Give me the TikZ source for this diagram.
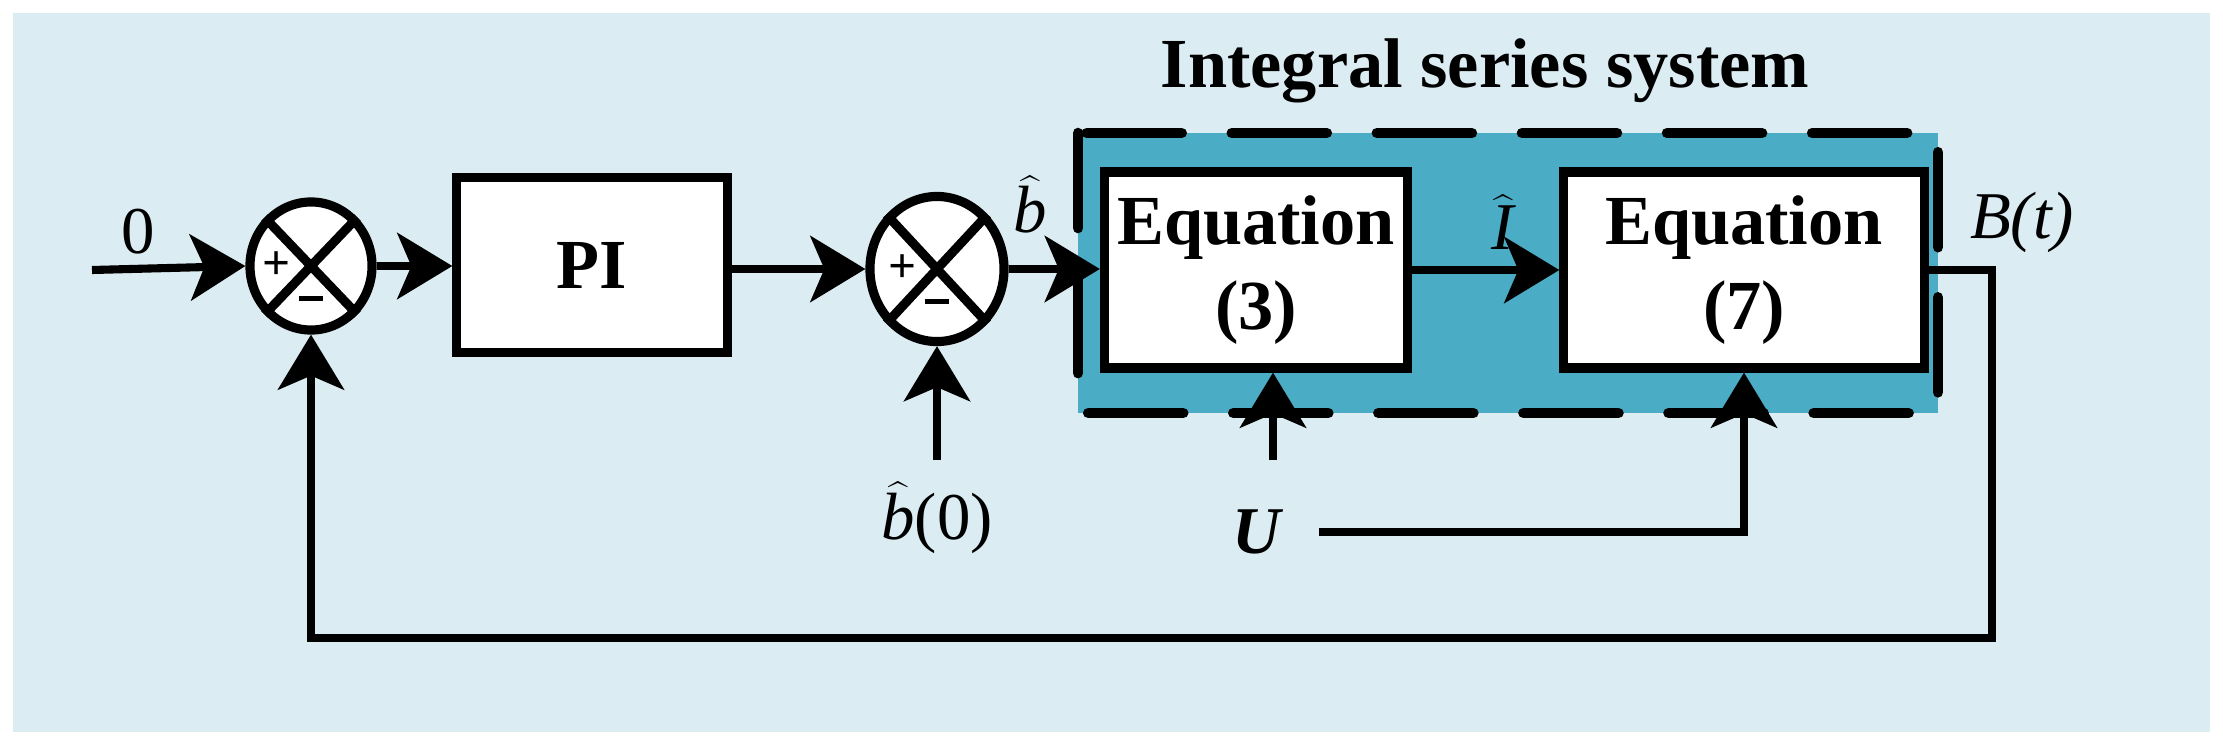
\documentclass[tikz,border=0pt]{standalone}
\usepackage{fontspec}
\setmainfont{Liberation Serif}
\usetikzlibrary{arrows.meta,shapes.geometric}
\definecolor{bgblue}{RGB}{219,237,243}
\definecolor{sysblue}{RGB}{75,172,198}
\begin{document}
\begin{tikzpicture}[x=0.01cm,y=-0.01cm,
  line width=2.3pt,
  arr/.style={-{Stealth[length=0.55cm,width=0.66cm,inset=0.14cm]}},
  blk/.style={draw,fill=white,line width=2.6pt,inner sep=0pt,font=\fontsize{20}{24}\selectfont\bfseries,align=center},
  sum/.style={draw,fill=white,ellipse,line width=2.6pt,inner sep=0pt},
  lbl/.style={font=\fontsize{19}{23}\selectfont}]
\useasboundingbox (0,0) rectangle (2223,745);
\fill[white] (0,0) rectangle (2223,745);
\fill[bgblue] (13,13) rectangle (2210,732);
% system box
\fill[sysblue] (1078,133) rectangle (1938,413);
\draw[line width=3pt,dash pattern=on 0.95cm off 0.5cm,line cap=round] (1078,133) rectangle (1938,413);
\node[font=\fontsize{20}{24}\selectfont\bfseries] (title) at (1485,71) {Integral series system};
% blocks
\node[blk,minimum width=2.7cm,minimum height=1.75cm] (pi) at (592,265) {PI};
\node[blk,minimum width=3.03cm,minimum height=1.96cm] (eq3) at (1256,270) {Equation\\(3)};
\node[blk,minimum width=3.6cm,minimum height=1.96cm] (eq7) at (1744,270) {Equation\\(7)};
% sums
\node[sum,minimum width=1.22cm,minimum height=1.28cm] (s1) at (311,266) {};
\node[sum,minimum width=1.34cm,minimum height=1.45cm] (s2) at (937,269) {};
\foreach \s in {s1,s2}{
  \draw[line width=2.6pt] (\s.north west) -- (\s.south east) (\s.north east) -- (\s.south west);
  \node[font=\fontsize{14}{14}\selectfont\bfseries] at ([xshift=-0.34cm]\s.center) {+};
  \node[font=\fontsize{14}{14}\selectfont\bfseries] at ([yshift=-0.38cm]\s.center) {\rule[0.5ex]{0.5em}{1.4pt}};
}
% coordinates
\coordinate (in0) at (92,270);
\coordinate (b0) at (937,460);
\coordinate (u3) at (1273,460);
\coordinate (uE) at (1319,532);
\coordinate (c1) at (1992,270);
\coordinate (c2) at (1992,638);
\coordinate (c3) at (311,638);
% labels
\node[lbl] (zero) at (138,232) {0};
\node[lbl] (bh) at (1030,205) {$\widehat{\textit{b}}$};
\node[lbl] (bh0) at (937,518) {$\widehat{\textit{b}}$(0)};
\node[lbl] (ih) at (1503,222) {$\widehat{\textit{I}}$};
\node[lbl] (bt) at (2022,222) {\textit{B(t)}};
\node[lbl] (U) at (1258,532) {\textit{\textbf{U}}};
% connectors
\draw[arr] (in0) -- (s1.west);
\draw[arr] (s1.east) -- (s1.east -| pi.west);
\draw[arr] (pi.east |- s2.west) -- (s2.west);
\draw[arr] (s2.east) -- (s2.east -| eq3.west);
\draw[arr] (eq3.east) -- (eq7.west);
\draw[arr] (b0) -- (s2.south);
\draw[arr] (u3) -- (u3 |- eq3.south);
\draw[arr] (uE) -| (eq7.south);
\draw[arr] (eq7.east |- c1) -- (c1) -- (c2) -- (c3) -- (s1.south);
\end{tikzpicture}
\end{document}
